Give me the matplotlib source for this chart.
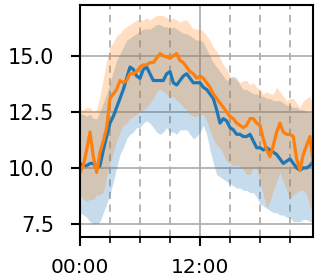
import numpy as np
import matplotlib
matplotlib.use("Agg")
import matplotlib.pyplot as plt
from matplotlib.ticker import FixedLocator, MultipleLocator

# time of day in hours, every 20 minutes from 00:00 to 23:20
hours = np.arange(71) / 3.0

blue_mean = [10.2, 10.1, 10.1, 10.2, 10.2, 10.0, 10.1, 10.8, 11.4, 12.0,
             12.3, 12.7, 13.1, 13.5, 14.0, 14.5, 14.4, 14.1, 14.0, 14.4,
             14.5, 14.2, 13.9, 13.9, 13.9, 13.9, 14.2, 14.3, 13.8, 13.7,
             13.9, 14.1, 14.2, 14.0, 13.8, 13.8, 13.8, 13.6, 13.5, 13.3,
             13.1, 12.6, 12.0, 12.2, 12.1, 11.8, 11.7, 11.5, 11.5, 11.4,
             11.4, 11.5, 11.2, 10.9, 10.9, 10.8, 10.9, 10.8, 10.7, 10.6,
             10.4, 10.2, 10.3, 10.4, 10.2, 10.0, 9.9, 10.0, 10.0, 10.1,
             10.3]
blue_lo = [8.0, 7.9, 7.8, 7.6, 7.5, 7.5, 7.6, 8.0, 8.4, 8.8,
           9.4, 10.0, 10.6, 10.9, 11.3, 11.5, 11.6, 11.8, 11.8, 12.0,
           12.1, 12.0, 11.8, 11.6, 11.5, 11.6, 11.8, 11.6, 11.6, 11.5,
           11.7, 11.7, 11.7, 11.5, 11.3, 11.4, 11.6, 11.9, 11.5, 10.8,
           10.2, 9.7, 9.6, 9.5, 9.4, 9.3, 9.2, 9.1, 9.1, 9.0,
           9.0, 8.9, 8.9, 8.7, 8.4, 8.3, 8.2, 8.1, 8.0, 8.0,
           7.9, 7.9, 7.8, 7.8, 7.6, 7.6, 7.6, 7.7, 7.7, 7.6,
           7.6]
blue_hi = [12.4, 12.4, 12.3, 12.4, 12.2, 12.2, 12.5, 12.9, 13.3, 13.8,
           14.3, 14.8, 15.1, 15.4, 15.7, 15.8, 15.9, 16.0, 16.1, 16.2,
           16.2, 16.2, 16.3, 16.4, 16.4, 16.3, 16.3, 16.2, 16.3, 16.2,
           16.1, 16.0, 16.0, 15.9, 15.8, 15.7, 15.7, 15.6, 15.3, 15.0,
           14.7, 14.5, 14.3, 14.1, 13.9, 14.0, 14.1, 14.0, 13.7, 13.5,
           13.5, 13.4, 13.3, 13.3, 13.2, 13.2, 13.1, 13.1, 13.0, 13.0,
           13.0, 12.9, 12.8, 12.8, 12.7, 12.7, 12.6, 12.6, 12.5, 12.5,
           12.4]

orange_mean = [9.8, 10.1, 10.8, 11.6, 10.5, 9.8, 10.7, 11.2, 11.8, 13.1,
               13.3, 13.5, 13.9, 13.8, 13.9, 14.2, 14.2, 14.3, 14.5, 14.6,
               14.6, 14.7, 14.7, 14.9, 15.1, 15.0, 14.95, 14.9, 15.0, 15.1,
               14.8, 14.7, 14.5, 14.3, 14.2, 14.0, 14.1, 14.0, 13.8, 13.6,
               13.3, 13.1, 12.9, 12.7, 12.5, 12.3, 12.2, 12.0, 11.9, 11.8,
               11.9, 12.2, 12.2, 12.0, 11.9, 11.3, 10.8, 10.5, 11.0, 11.6,
               12.0, 11.6, 11.5, 11.5, 11.4, 10.4, 9.9, 10.6, 11.0, 11.4,
               10.2]
orange_lo = [8.8, 8.6, 8.5, 8.6, 8.6, 8.8, 8.8, 8.9, 9.6, 10.2,
             10.7, 11.2, 11.6, 11.9, 12.0, 12.2, 12.3, 12.4, 12.5, 12.6,
             12.7, 12.9, 13.1, 13.4, 13.5, 13.4, 13.3, 13.1, 13.2, 13.0,
             12.9, 12.7, 12.6, 12.4, 12.3, 12.3, 12.4, 12.4, 12.1, 11.7,
             11.3, 11.0, 10.9, 10.6, 10.3, 10.2, 10.1, 10.1, 10.1, 9.9,
             9.7, 9.7, 10.0, 10.0, 9.4, 8.8, 8.2, 8.5, 9.0, 9.4,
             9.8, 9.4, 9.0, 8.6, 8.8, 8.9, 9.0, 9.0, 8.8, 8.3,
             7.9]
orange_hi = [12.6, 12.6, 12.7, 12.7, 12.5, 12.6, 13.2, 14.0, 14.8, 15.4,
             15.6, 15.9, 16.0, 16.2, 16.3, 16.4, 16.5, 16.6, 16.6, 16.6,
             16.7, 16.6, 16.7, 16.8, 16.8, 16.8, 16.7, 16.6, 16.7, 16.6,
             16.5, 16.6, 16.6, 16.4, 16.2, 16.2, 16.2, 16.1, 15.9, 15.7,
             15.4, 15.2, 14.9, 14.6, 14.4, 14.1, 14.0, 13.9, 13.8, 13.9,
             13.9, 13.7, 13.8, 13.6, 13.5, 13.3, 13.4, 13.3, 13.3, 13.6,
             13.4, 13.2, 13.0, 13.1, 13.1, 12.9, 12.7, 13.0, 13.1, 13.2,
             12.7]

x_major = [0, 12]
x_labels = ["00:00", "12:00"]
y_ticks = [7.5, 10.0, 12.5, 15.0]

fig = plt.figure(figsize=(3.15, 2.8), dpi=100)
ax = fig.add_axes([80 / 315, 43.3 / 280, 233.3 / 315, 231.7 / 280])

ax.fill_between(hours, blue_lo, blue_hi, color="#1f77b4", alpha=0.25, lw=0)
ax.fill_between(hours, orange_lo, orange_hi, color="#ff7f0e", alpha=0.25, lw=0)
ax.plot(hours, blue_mean, color="#1f77b4", lw=2.3)
ax.plot(hours, orange_mean, color="#ff7f0e", lw=2.3)

ax.set_xlim(hours[0], hours[-1])
ax.set_ylim(6.93, 17.27)

ax.xaxis.set_major_locator(FixedLocator(x_major))
ax.set_xticklabels(x_labels)
ax.xaxis.set_minor_locator(MultipleLocator(3))
ax.set_yticks(y_ticks)
ax.set_yticklabels([f"{v:.1f}" for v in y_ticks])

ax.grid(True, which="major", color="#b0b0b0", lw=1.3, ls="-")
ax.grid(True, which="minor", axis="x", color="#b0b0b0", lw=1.3, ls=(0, (4, 3)))
ax.set_axisbelow(True)

for s in ax.spines.values():
    s.set_linewidth(1.5)
    s.set_color("black")

ax.tick_params(axis="y", which="major", length=6.5, width=1.5,
               labelsize=15, pad=12, colors="black")
ax.tick_params(axis="x", which="major", length=6.5, width=1.5,
               labelsize=14.5, pad=9, colors="black")
ax.tick_params(axis="x", which="minor", length=4, width=1.2)

fig.savefig("out.png", dpi=100)
